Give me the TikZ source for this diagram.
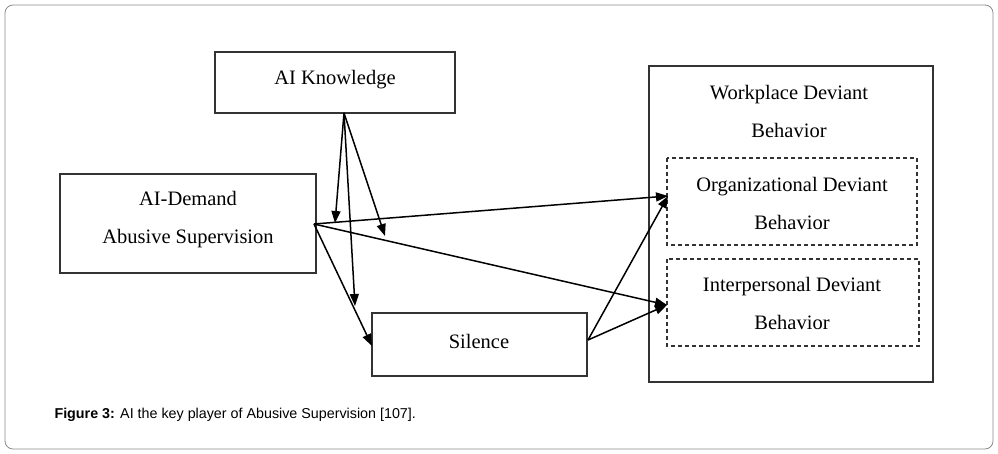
\documentclass[tikz,border=0pt]{standalone}
\usepackage{fontspec}
\setmainfont{Liberation Serif}
\newfontfamily\capfont{Liberation Sans}
\usetikzlibrary{arrows.meta}
\begin{document}
\begin{tikzpicture}[x=1pt,y=-1pt,
  box/.style={draw=black!80,line width=1.3pt,fill=white},
  dbox/.style={draw=black!80,line width=1.2pt,dash pattern=on 4pt off 3pt,fill=white},
  txt/.style={font=\fontsize{20.5}{38}\selectfont,align=center},
  arr/.style={-{Triangle[length=12pt,width=9pt]},line width=1.5pt}]
\useasboundingbox (0,0) rectangle (998,454);
\draw[black!45,rounded corners=8pt,line width=0.8pt] (5,5) rectangle (993,449);
\draw[box] (215,52) rectangle (455,113);
\node[txt] (k) at (335,80) {AI Knowledge};
\draw[box] (60,174) rectangle (316,273);
\node[txt] (d) at (188,220) {AI-Demand\\Abusive Supervision};
\draw[box] (372,313) rectangle (587,376);
\node[txt] (s) at (479,341) {Silence};
\draw[box,line width=1.8pt] (649,66) rectangle (933,382);
\node[txt] (w) at (789,111) {Workplace Deviant\\Behavior};
\draw[dbox] (667,158) rectangle (917,245);
\node[txt] (o) at (792,203) {Organizational Deviant\\Behavior};
\draw[dbox] (667,259) rectangle (919,346);
\node[txt] (i) at (792,303) {Interpersonal Deviant\\Behavior};
\coordinate (kb) at (344,113);
\coordinate (dr) at (314,224);
\coordinate (sr) at (588,340);
\coordinate (m1) at (335,223);
\coordinate (m2) at (385,236);
\coordinate (m3) at (355,306);
\coordinate (ol) at (668,196);
\coordinate (il) at (667,305);
\coordinate (sl) at (372,346);
\draw[arr] (kb) -- (m1);
\draw[arr] (kb) -- (m2);
\draw[arr] (kb) -- (m3);
\draw[arr] (dr) -- (ol);
\draw[arr] (dr) -- (il);
\draw[arr] (dr) -- (sl);
\draw[arr] (sr) -- (ol);
\draw[arr] (sr) -- (il);
\node[anchor=west,font=\capfont\fontsize{14.3}{16}\selectfont] (c) at (51,415) {\textbf{Figure 3:} AI the key player of Abusive Supervision [107].};
\end{tikzpicture}
\end{document}
